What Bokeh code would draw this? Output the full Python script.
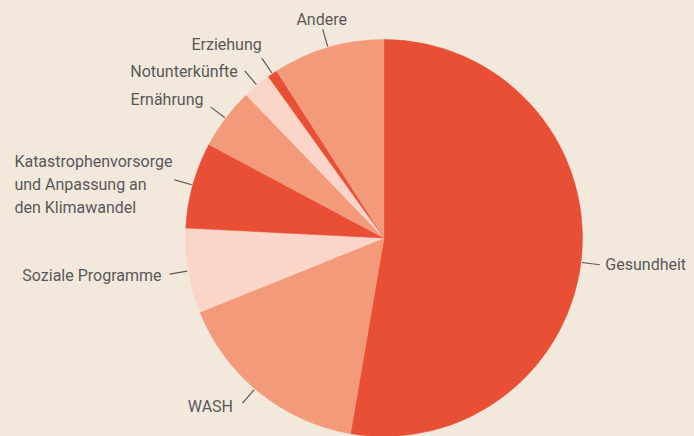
import math
from bokeh.plotting import figure
from bokeh.models import Range1d, ColumnDataSource
from bokeh.core.properties import value
from bokeh.embed import file_html
from bokeh.resources import INLINE

# ---- data ----
categories = ["Gesundheit", "WASH", "Soziale Programme",
              "Katastrophenvorsorge\nund Anpassung an\nden Klimawandel",
              "Ernährung", "Notunterkünfte", "Erziehung", "Andere"]
shares = [52.7, 16.2, 6.9, 7.0, 5.0, 2.3, 0.8, 9.1]

# ---- styles ----
RED, SALMON, LIGHT = "#E94F35", "#F29A7A", "#FBD6C8"
slice_colors = [RED, SALMON, LIGHT, RED, SALMON, LIGHT, RED, SALMON]
BG = "#F3E8DC"
TXT = "#595959"
FONT = "Roboto"
FSIZE = "16px"

W, H = 694, 436
CX, CY = 383.5, 237.5   # pie centre in pixels from top-left
R = 198.5

p = figure(width=W, height=H, output_backend="svg", toolbar_location=None,
           x_range=Range1d(-CX, W - CX), y_range=Range1d(-(H - CY), CY),
           min_border=0, outline_line_color=None,
           background_fill_color=BG, border_fill_color=BG)
p.axis.visible = False
p.grid.visible = False

# label layout: (leader angle tweak in degrees clockwise, dx, dy, align, baseline)
label_style = {
    "Gesundheit": (2.2, 5.5, 0, "left", "middle"),
    "WASH": (1.7, -9.5, -3.5, "right", "middle"),
    "Soziale Programme": (0, -8, -1, "right", "middle"),
    "Ernährung": (0, -7, 7.5, "right", "middle"),
    "Notunterkünfte": (0, -7, -1, "right", "middle"),
    "Erziehung": (0, 0, 13.5, "right", "alphabetic"),
    "Andere": (0, -1, 10, "center", "alphabetic"),
}

total = sum(shares)
starts, ends, mids = [], [], []
acc = 0.0
for s in shares:
    a0 = acc / total * 2 * math.pi
    acc += s
    a1 = acc / total * 2 * math.pi
    starts.append(math.pi / 2 - a0)
    ends.append(math.pi / 2 - a1)
    mids.append(math.pi / 2 - (a0 + a1) / 2)

src = ColumnDataSource(dict(start=starts, end=ends, color=slice_colors))
p.wedge(x=0, y=0, radius=R, start_angle="start", end_angle="end",
        direction="clock", fill_color="color", line_color="color",
        line_width=0.5, source=src)

# leader lines
r_in, r_out = R + 1, R + 19
lead = []
for cat, m in zip(categories, mids):
    tweak = label_style.get(cat, (0,))[0]
    lead.append(m - math.radians(tweak))
lx0 = [r_in * math.cos(m) for m in lead]
ly0 = [r_in * math.sin(m) for m in lead]
lx1 = [r_out * math.cos(m) for m in lead]
ly1 = [r_out * math.sin(m) for m in lead]
p.segment(x0=lx0, y0=ly0, x1=lx1, y1=ly1, line_color=TXT, line_width=1.2)

tx, ty, tt, ta, tb = [], [], [], [], []
for cat, x1, y1 in zip(categories, lx1, ly1):
    if "\n" in cat:
        lines = cat.split("\n")
        for i, line in enumerate(lines):
            tx.append(x1 - 160)
            ty.append(y1 - 5 + (1 - i) * 23)
            tt.append(line)
            ta.append("left")
            tb.append("middle")
    else:
        _, dx, dy, al, bl = label_style[cat]
        tx.append(x1 + dx)
        ty.append(y1 + dy)
        tt.append(cat)
        ta.append(al)
        tb.append(bl)

tsrc = ColumnDataSource(dict(x=tx, y=ty, text=tt, align=ta, base=tb))
p.text(x="x", y="y", text="text", text_align="align", text_baseline="base",
       text_color=TXT, text_font=value(FONT), text_font_size=FSIZE, source=tsrc)

html = file_html(p, INLINE)
html = html.replace("<head>", "<head><style>html,body{margin:0;padding:0;background:%s;overflow:hidden;}</style>" % BG, 1)
open("out.html", "w").write(html)
